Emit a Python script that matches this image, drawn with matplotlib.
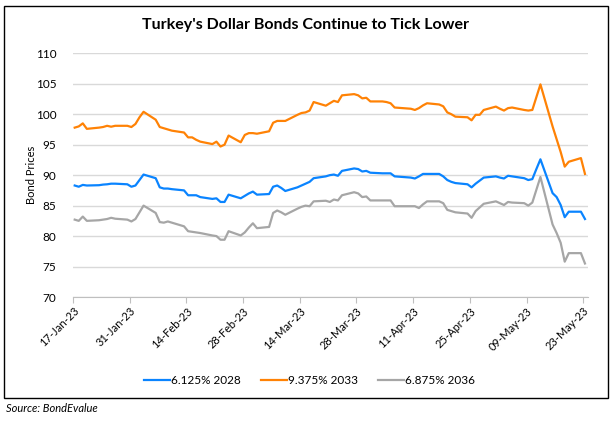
import matplotlib
matplotlib.use("Agg")
import matplotlib.pyplot as plt
import matplotlib.dates as mdates
import pandas as pd
from matplotlib.patches import Rectangle

# ---- data (weekday closes) ----
dates = pd.bdate_range("2023-01-17", "2023-05-23")

bond_2028 = [88.3, 88.1, 88.4, 88.3,
             88.35, 88.45, 88.5, 88.6, 88.6,
             88.5, 88.1, 88.3, 89.2, 90.1,
             89.5, 88.0, 87.8, 87.8, 87.7,
             87.5, 86.7, 86.7, 86.7, 86.4,
             86.1, 86.2, 85.6, 85.6, 86.8,
             86.2, 86.6, 87.0, 87.3, 86.8,
             86.9, 88.1, 88.3, 87.9, 87.4,
             88.0, 88.3, 88.6, 88.9, 89.5,
             89.8, 90.0, 90.1, 89.9, 90.7,
             91.1, 91.0, 90.6, 90.7, 90.4,
             90.3, 90.3, 90.3, 89.8, 89.75,
             89.6, 89.45, 89.8, 90.2, 90.2,
             90.2, 89.8, 89.2, 88.9, 88.7,
             88.5, 88.0, 88.6, 89.1, 89.6,
             89.8, 89.6, 89.45, 89.9, 89.8,
             89.5, 89.2, 89.35, 91.0, 92.6,
             87.05, 86.4, 85.1, 83.1, 84.0,
             84.0, 82.8]

bond_2033 = [97.8, 98.0, 98.5, 97.6,
             97.8, 97.9, 98.1, 97.95, 98.1,
             98.1, 97.9, 98.4, 99.5, 100.4,
             99.1, 97.9, 97.7, 97.5, 97.3,
             97.0, 96.2, 96.2, 95.8, 95.5,
             95.1, 95.5, 94.7, 95.0, 96.5,
             95.4, 96.6, 96.9, 96.9, 96.8,
             97.2, 98.6, 98.9, 98.9, 98.9,
             99.9, 100.2, 100.3, 100.6, 102.0,
             101.4, 101.8, 102.2, 102.0, 103.1,
             103.3, 103.1, 102.6, 102.7, 102.1,
             102.1, 102.0, 101.8, 101.1, 101.05,
             100.9, 100.7, 101.0, 101.45, 101.8,
             101.6, 101.3, 100.3, 100.0, 99.6,
             99.5, 99.0, 99.9, 99.9, 100.7,
             101.25, 100.9, 100.6, 101.0, 101.1,
             100.7, 100.6, 100.7, 102.8, 104.9,
             98.0, 95.9, 93.8, 91.4, 92.2,
             92.8, 90.2]

bond_2036 = [82.7, 82.5, 83.2, 82.5,
             82.6, 82.7, 82.8, 83.0, 82.85,
             82.7, 82.4, 82.8, 83.9, 85.0,
             83.8, 82.3, 82.2, 82.4, 82.2,
             81.6, 80.8, 80.7, 80.6, 80.5,
             80.1, 80.0, 79.4, 79.4, 80.8,
             80.1, 80.6, 81.4, 82.1, 81.3,
             81.5, 83.8, 84.2, 83.9, 83.5,
             84.5, 84.8, 85.0, 84.9, 85.7,
             85.8, 85.6, 86.0, 85.85, 86.7,
             87.2, 87.0, 86.4, 86.5, 85.85,
             85.85, 85.85, 85.85, 84.9, 84.9,
             84.9, 84.9, 84.6, 85.2, 85.7,
             85.7, 85.4, 84.3, 84.1, 83.9,
             83.7, 83.0, 84.1, 84.7, 85.3,
             85.7, 85.4, 85.1, 85.6, 85.5,
             85.4, 85.0, 85.5, 87.6, 89.7,
             81.9, 80.5, 78.9, 75.8, 77.2,
             77.2, 75.5]

series_names = ["6.125% 2028", "9.375% 2033", "6.875% 2036"]
series_colors = ["#0A84FF", "#FF8205", "#A6A6A6"]
y_ticks = [70, 75, 80, 85, 90, 95, 100, 105, 110]
x_ticks = pd.date_range("2023-01-17", "2023-05-23", freq="14D")

title = "Turkey's Dollar Bonds Continue to Tick Lower"
y_label = "Bond Prices"
source = "Source: BondEvalue"

# ---- figure ----
plt.rcParams["font.family"] = ["Lato", "DejaVu Sans"]
fig = plt.figure(figsize=(6.12, 4.22), dpi=100)
ax = fig.add_axes([0.1193, 0.2962, 0.8415, 0.5775])

xpos = dates + pd.Timedelta(hours=10)
for vals, name, col in zip([bond_2028, bond_2033, bond_2036], series_names, series_colors):
    ax.plot(xpos, vals, color=col, lw=1.6, label=name, solid_joinstyle="round")

ax.set_ylim(70, 110)
ax.set_yticks(y_ticks)
ax.set_xlim(pd.Timestamp("2023-01-17"), pd.Timestamp("2023-05-24 04:00"))
ax.set_xticks(x_ticks)
ax.xaxis.set_major_formatter(mdates.DateFormatter("%d-%b-%y"))
ax.grid(axis="y", color="#D9D9D9", lw=1.0)
ax.set_axisbelow(True)
for s in ["top", "right", "left"]:
    ax.spines[s].set_visible(False)
ax.spines["bottom"].set_color("#BFBFBF")
ax.tick_params(axis="y", length=0, labelsize=8.5, colors="#000000", pad=12)
ax.tick_params(axis="x", length=4, color="#BFBFBF", labelsize=8, pad=2)
for lab in ax.get_xticklabels():
    lab.set_rotation(45)
    lab.set_ha("right")
    lab.set_rotation_mode("anchor")

fig.text(0.052, 0.585, y_label, rotation=90, ha="center", va="center", fontsize=8)
fig.text(0.5, 0.94, title, ha="center", va="center", fontsize=11.5, fontweight="bold")

leg = fig.legend(loc="center", bbox_to_anchor=(0.506, 0.099), ncol=3, frameon=False,
                 fontsize=8.5, handlelength=2.2, handletextpad=0.1, columnspacing=1.7)

fig.patches.append(Rectangle((4/612, 1-398/422), 604/612, 392/422, transform=fig.transFigure,
                             fill=False, edgecolor="#000000", lw=1.0))
fig.text(6/612, 1-409/422, source, ha="left", va="center", fontsize=8, style="italic")

fig.savefig("out.png", dpi=100)
